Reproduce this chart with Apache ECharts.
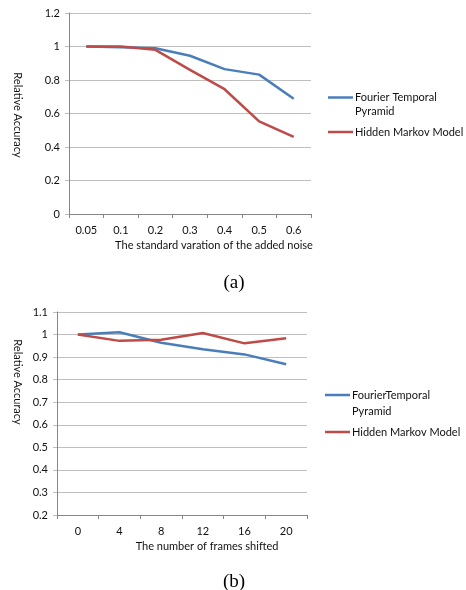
<!DOCTYPE html>
<html><head><meta charset="utf-8">
<script src="https://cdn.jsdelivr.net/npm/echarts@6/dist/echarts.min.js"></script>
<style>html,body{margin:0;padding:0;background:#fff}#c{width:466px;height:590px}</style>
</head><body><div id="c"></div>
<script>
var noiseLevels = ['0.05','0.1','0.2','0.3','0.4','0.5','0.6'];
var noiseFTP = [1.0, 0.995, 0.99, 0.945, 0.865, 0.832, 0.688];
var noiseHMM = [1.0, 1.0, 0.98, 0.86, 0.745, 0.553, 0.46];
var framesShifted = ['0','4','8','12','16','20'];
var shiftFTP = [1.0, 1.01, 0.964, 0.935, 0.912, 0.868];
var shiftHMM = [1.0, 0.972, 0.977, 1.007, 0.961, 0.984];
var seriesNamesA = ['Fourier Temporal\nPyramid', 'Hidden Markov Model'];
var seriesNamesB = ['FourierTemporal\nPyramid', 'Hidden Markov Model'];
var xTitleA = 'The standard varation of the added noise';
var xTitleB = 'The number of frames shifted';
var yTitle = 'Relative Accuracy';
var captions = ['(a)', '(b)'];

var BLUE = '#4a7ebb', RED = '#be4b48';
var FONT = 'Lato';
var TXT = '#111';
var chart = echarts.init(document.getElementById('c'), null, {renderer:'canvas'});

function xAx(idx, data){
  return {type:'category', gridIndex:idx, data:data, boundaryGap:true,
    axisLine:{lineStyle:{color:'#868686', width:1}},
    axisTick:{show:true, length:4, lineStyle:{color:'#868686'}},
    axisLabel:{color:TXT, fontFamily:FONT, fontSize:11, margin:11},
    splitLine:{show:false}};
}
function yAx(idx, min, max, interval){
  return {type:'value', gridIndex:idx, min:min, max:max, interval:interval,
    axisLine:{show:true, lineStyle:{color:'#868686', width:1}},
    axisTick:{show:true, length:4, lineStyle:{color:'#bfbfbf'}},
    axisLabel:{color:TXT, fontFamily:FONT, fontSize:11, margin:9},
    splitLine:{show:true, lineStyle:{color:'#bfbfbf', width:1}}};
}
function ser(name, x, y, data, color){
  return {type:'line', name:name, xAxisIndex:x, yAxisIndex:y, data:data, symbol:'none',
    smooth:false, lineStyle:{color:color, width:2.5}, itemStyle:{color:color}, silent:true, animation:false};
}
function legendGraphics(names, x, y1, y2, lh){
  var t = {fontFamily:FONT, fontSize:11, fill:TXT, lineHeight:lh, verticalAlign:'top'};
  return [
    {type:'line', shape:{x1:x, y1:y1, x2:x+25, y2:y1}, style:{stroke:BLUE, lineWidth:2.5}},
    {type:'text', x:x+27, y:y1-lh/2, style:Object.assign({text:names[0]}, t)},
    {type:'line', shape:{x1:x, y1:y2, x2:x+25, y2:y2}, style:{stroke:RED, lineWidth:2.5}},
    {type:'text', x:x+27, y:y2-lh/2, style:Object.assign({text:names[1]}, t)}
  ];
}
var g = [];
g = g.concat(legendGraphics(seriesNamesA, 328, 97.5, 132, 14));
g = g.concat(legendGraphics(seriesNamesB, 325, 395, 432, 16.5));
g.push({type:'text', x:214, y:245, style:{text:xTitleA, fontFamily:FONT, fontSize:11, fill:TXT, align:'center', verticalAlign:'middle'}});
g.push({type:'text', x:207, y:546, style:{text:xTitleB, fontFamily:FONT, fontSize:11, fill:TXT, align:'center', verticalAlign:'middle'}});
g.push({type:'text', x:18, y:115, rotation:-Math.PI/2, style:{text:yTitle, fontFamily:FONT, fontSize:11, fill:TXT, align:'center', verticalAlign:'middle'}});
g.push({type:'text', x:18, y:382, rotation:-Math.PI/2, style:{text:yTitle, fontFamily:FONT, fontSize:11, fill:TXT, align:'center', verticalAlign:'middle'}});
g.push({type:'text', x:234, y:283, style:{text:captions[0], fontFamily:'Liberation Serif', fontSize:19, fill:'#000', align:'center', verticalAlign:'middle'}});
g.push({type:'text', x:234, y:582, style:{text:captions[1], fontFamily:'Liberation Serif', fontSize:19, fill:'#000', align:'center', verticalAlign:'middle'}});

chart.setOption({
  animation:false,
  grid:[
    {left:69, top:13, width:242, height:201},
    {left:57, top:312, width:250, height:203}
  ],
  xAxis:[xAx(0, noiseLevels), xAx(1, framesShifted)],
  yAxis:[yAx(0, 0, 1.2, 0.2), yAx(1, 0.2, 1.1, 0.1)],
  series:[
    ser(seriesNamesA[0], 0, 0, noiseFTP, BLUE),
    ser(seriesNamesA[1], 0, 0, noiseHMM, RED),
    ser(seriesNamesB[0], 1, 1, shiftFTP, BLUE),
    ser(seriesNamesB[1], 1, 1, shiftHMM, RED)
  ],
  graphic:g
});
</script></body></html>
